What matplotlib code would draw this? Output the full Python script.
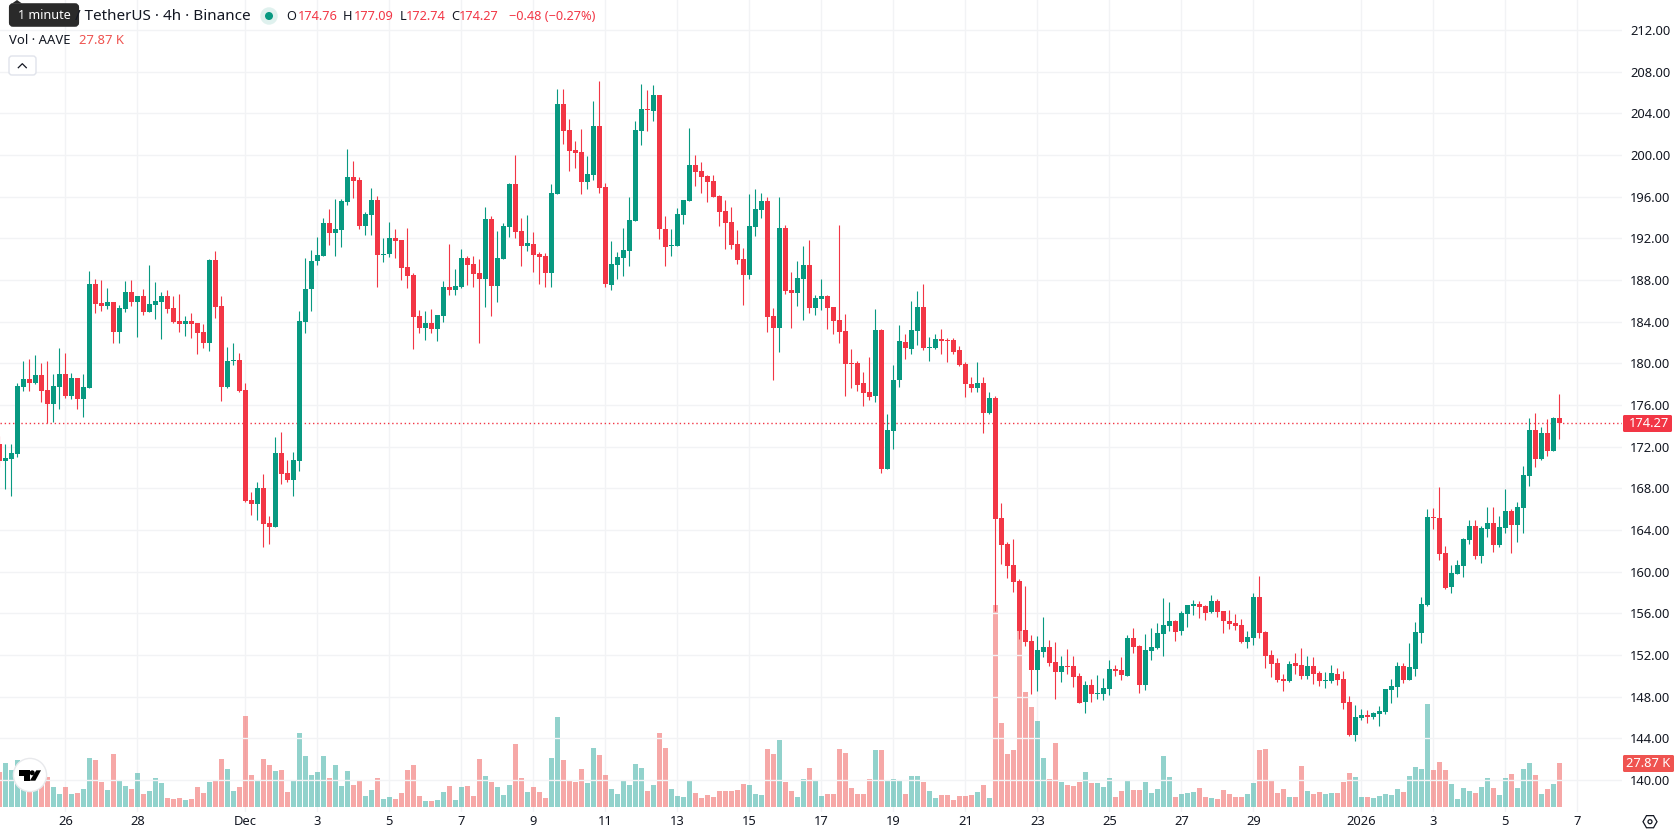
import numpy as np
import matplotlib
matplotlib.use("Agg")
import matplotlib.pyplot as plt
from matplotlib.patches import Circle, FancyBboxPatch, Polygon, RegularPolygon

plt.rcParams["font.family"] = ["Noto Sans", "DejaVu Sans"]

opens = [
172.27,170.67,170.86,171.31,177.74,178.51,178.12,178.89,177.45,176.11,
177.74,178.99,176.87,178.60,176.59,177.64,187.63,185.80,185.51,185.90,
183.02,185.23,186.86,185.90,186.47,184.94,185.61,185.90,186.47,185.32,
184.07,183.79,184.07,183.88,183.02,181.96,189.93,185.51,177.74,180.23,
180.33,177.45,166.89,166.51,168.04,164.68,164.30,171.40,169.48,168.81,
170.63,183.98,187.15,189.83,190.31,193.48,192.52,192.81,195.50,197.90,
197.61,193.19,194.25,195.69,190.41,190.51,192.04,191.85,189.26,188.49,
184.55,183.40,183.88,183.31,184.55,187.34,187.05,187.34,190.12,189.55,
188.68,188.11,193.87,187.43,190.03,193.10,197.23,192.71,191.27,191.47,
190.51,190.31,188.68,196.27,204.91,202.41,200.49,200.30,197.42,198.09,
202.79,196.94,187.53,189.45,190.12,190.79,193.67,202.31,204.43,204.23,
205.77,192.91,191.27,191.27,194.25,195.59,199.05,198.47,198.00,197.51,
196.07,194.63,193.58,191.47,190.03,188.49,193.10,194.73,195.59,184.55,
183.40,193.00,187.05,186.76,188.11,189.45,185.32,186.19,186.47,185.42,
184.17,183.11,180.04,180.04,178.12,177.26,176.87,183.21,169.87,173.51,
178.41,182.06,181.39,183.11,185.42,181.48,181.48,182.35,182.25,182.25,
181.29,179.95,178.03,177.64,178.11,175.23,176.67,165.15,162.66,160.64,
159.10,154.40,153.34,150.56,152.29,152.77,151.33,150.37,150.94,150.94,
149.98,147.49,149.12,148.26,148.26,148.74,150.66,150.56,149.98,153.63,
152.86,149.12,152.38,152.67,154.02,154.78,155.26,154.30,155.94,156.70,
156.90,156.70,156.13,157.18,156.22,155.26,155.07,154.88,153.25,153.63,
157.57,154.21,152.00,151.23,149.70,149.50,151.23,151.04,149.98,150.94,
150.27,149.50,149.50,150.18,149.70,147.49,144.32,145.95,146.24,146.05,
146.34,146.53,148.64,148.93,150.94,149.60,150.66,154.11,156.80,165.25,
165.15,161.79,158.53,159.78,160.54,163.04,164.38,161.50,164.10,164.67,
162.56,164.19,165.82,164.48,166.11,169.18,173.60,170.82,173.31,171.58,
174.76,
]

closes = [
170.67,170.92,171.40,177.83,178.51,178.12,178.89,177.35,176.11,177.83,
178.99,176.87,178.60,176.59,177.74,187.63,185.71,185.51,185.90,183.02,
185.32,186.86,185.90,186.47,184.94,185.71,186.00,186.47,185.23,183.98,
183.79,184.07,183.79,182.92,181.96,189.93,185.42,177.74,180.23,180.33,
177.35,166.79,166.51,168.04,164.59,164.30,171.40,169.39,168.81,170.73,
184.07,187.15,189.83,190.41,193.48,192.52,192.91,195.59,197.90,197.51,
193.19,194.35,195.69,190.41,190.51,192.04,191.75,189.16,188.39,184.46,
183.40,183.88,183.31,184.65,187.34,187.05,187.43,190.12,189.45,188.59,
188.11,193.87,187.43,190.12,193.19,197.23,192.62,191.27,191.56,190.41,
190.22,188.68,196.36,204.91,202.31,200.39,200.20,197.42,198.19,202.79,
196.84,187.63,189.55,190.22,190.89,193.77,202.41,204.43,204.33,205.77,
192.91,191.18,191.37,194.35,195.69,199.05,198.38,197.90,197.42,195.98,
194.54,193.48,191.37,189.93,188.49,193.19,194.83,195.59,184.46,183.40,
193.00,186.95,186.76,188.20,189.45,185.32,186.28,186.47,185.32,184.07,
183.02,179.95,179.95,177.93,177.16,176.78,183.21,169.87,173.61,178.41,
182.15,181.48,183.21,185.42,181.48,181.58,182.35,182.15,182.15,181.10,
179.85,178.03,177.64,178.12,175.23,176.67,165.06,162.56,160.54,159.01,
154.30,153.25,150.56,152.48,152.77,151.23,150.37,150.94,150.85,149.89,
147.39,149.12,148.26,148.35,148.83,150.66,150.46,150.08,153.63,152.77,
149.12,152.48,152.77,154.11,154.88,155.26,154.21,156.03,156.80,156.90,
156.61,156.03,157.18,156.13,155.26,154.98,154.78,153.25,153.73,157.57,
154.11,151.90,151.14,149.60,149.50,151.14,150.94,149.98,150.94,150.18,
149.50,149.60,150.27,149.60,147.39,144.32,146.05,146.24,146.08,146.43,
146.62,148.74,149.02,150.94,149.60,150.85,154.21,156.90,165.25,165.15,
161.70,158.40,159.87,160.64,163.14,164.38,161.50,164.19,164.67,162.56,
164.29,165.82,164.48,166.21,169.28,173.60,170.82,173.31,171.58,174.75,
174.27,
]

highs = [
173.00,172.27,172.27,178.12,180.23,180.43,180.81,180.04,180.23,178.99,
181.48,181.00,179.08,178.60,178.99,188.87,188.11,188.01,187.24,185.90,
185.61,187.91,188.01,186.47,187.15,189.45,187.82,186.86,187.05,186.47,
186.67,184.55,184.84,183.88,183.79,190.03,190.79,186.47,181.58,181.96,
181.00,178.12,167.66,168.62,169.39,165.35,172.94,173.42,170.73,171.50,
185.03,190.12,190.89,192.14,193.96,194.83,195.79,195.79,200.58,199.43,
197.90,194.54,196.84,196.07,192.04,193.58,192.91,191.85,193.00,188.68,
185.13,185.03,185.23,184.65,187.91,191.47,189.07,190.99,190.31,190.31,
190.03,195.02,194.15,192.71,193.48,197.32,200.01,193.96,194.25,192.62,
190.70,190.60,197.23,206.35,206.35,203.47,201.35,202.51,199.91,205.19,
207.11,197.32,191.75,190.70,192.99,195.98,203.27,206.83,206.25,206.73,
205.77,194.15,192.91,194.92,195.69,202.60,200.01,199.34,198.09,198.09,
196.17,195.69,195.02,192.81,191.08,196.27,196.75,196.36,195.98,185.32,
195.98,193.29,188.78,189.83,191.27,191.85,186.57,188.11,186.57,185.42,
193.29,184.75,181.39,180.23,179.18,180.62,185.23,183.31,175.15,179.85,
183.69,182.83,185.99,186.95,187.63,182.54,182.83,183.31,182.44,182.44,
181.67,180.14,178.70,180.14,178.69,177.25,176.86,166.59,162.85,163.14,
159.30,158.62,153.92,153.82,155.65,153.44,153.25,151.90,152.58,151.90,
150.27,149.50,149.70,150.08,149.79,151.52,151.04,151.81,153.92,154.59,
152.96,154.02,154.59,155.07,157.47,157.09,155.36,156.22,156.80,157.28,
157.18,156.80,157.76,157.38,156.22,156.32,155.94,155.46,154.30,157.95,
159.58,154.30,152.48,151.71,150.18,151.42,152.19,152.67,151.90,151.81,
150.46,150.37,151.04,150.75,150.46,148.06,147.20,146.82,146.72,146.53,
147.10,148.74,149.70,151.33,151.23,153.15,155.17,157.57,166.02,166.11,
168.13,162.46,160.64,161.12,163.23,164.96,164.96,164.38,166.21,166.21,
165.34,167.94,166.02,166.69,170.14,174.75,175.23,173.89,174.66,174.85,
177.09,
]

lows = [
170.00,167.98,167.31,171.02,177.35,177.35,178.03,176.30,174.31,174.38,
175.63,176.68,176.59,175.63,174.86,177.64,184.84,185.03,185.23,181.96,
181.96,184.94,185.51,182.54,184.65,184.94,184.27,182.35,184.84,183.88,
183.02,182.63,182.44,180.91,181.48,181.19,184.36,176.39,177.64,179.85,
177.26,166.70,165.45,164.97,162.38,162.67,164.30,168.43,168.62,167.27,
169.67,182.92,185.03,189.45,190.31,191.37,190.31,191.18,195.21,195.88,
192.91,192.33,192.33,187.34,189.74,190.22,190.12,188.01,187.24,181.39,
182.92,182.25,182.92,182.15,183.98,186.57,186.57,187.24,187.53,187.34,
181.96,185.42,184.55,185.90,190.03,192.14,192.04,189.35,190.79,188.78,
187.63,187.34,187.34,196.27,201.07,198.47,198.76,196.27,196.75,197.61,
196.36,187.34,187.05,188.11,188.39,189.35,193.67,200.97,202.31,203.27,
191.95,189.35,190.31,191.27,193.39,195.59,197.03,196.36,195.50,195.98,
193.19,190.99,190.99,189.55,185.61,188.11,192.23,193.96,183.02,178.41,
181.10,186.67,183.40,185.51,184.17,184.84,184.65,185.13,183.31,182.83,
181.96,176.87,177.64,177.35,175.91,176.49,176.30,169.48,169.87,171.79,
177.74,180.43,180.91,181.77,181.29,180.23,181.39,180.91,180.14,180.91,
179.75,176.78,177.26,177.26,173.31,175.14,156.22,160.74,159.39,158.05,
153.54,152.86,148.26,148.54,151.81,150.94,147.78,149.41,150.18,148.93,
147.39,146.43,147.49,147.78,147.68,148.16,149.98,149.60,149.98,152.19,
148.35,148.64,151.52,152.58,151.90,154.30,153.34,153.92,154.69,155.84,
155.55,155.36,156.03,155.65,154.11,154.50,154.40,153.15,152.67,152.96,
153.63,150.75,149.89,149.41,148.54,149.41,150.18,149.70,149.70,149.22,
149.02,148.83,149.31,149.12,146.82,144.22,143.74,145.76,145.47,145.86,
145.18,146.34,147.39,147.97,149.31,149.60,149.98,153.15,156.70,164.10,
161.12,158.34,157.95,159.78,159.49,162.66,161.22,160.83,163.33,161.89,
162.37,163.71,161.79,162.85,163.71,168.22,170.05,170.72,171.10,171.58,
172.74,
]

# Traded volume per 4h bar, thousands of AAVE
volumes = [
22.2,27.9,23.4,29.8,21.3,9.7,12.7,15.0,19.0,12.7,
8.2,12.7,8.2,8.9,11.4,31.0,29.8,15.8,10.8,33.6,
16.5,13.3,11.4,21.5,8.2,10.1,18.4,15.2,5.7,5.1,
5.7,4.4,5.1,12.7,8.9,15.8,17.1,30.4,24.1,10.1,
12.7,57.6,20.3,16.5,30.4,26.6,22.8,23.4,9.5,16.5,
46.9,32.3,20.3,22.2,32.3,18.4,26.6,13.3,22.8,13.9,
17.1,7.0,10.8,18.4,5.1,6.3,5.1,8.9,23.4,26.6,
7.0,3.8,3.8,4.4,9.5,13.3,4.4,12.7,13.3,7.0,
30.4,19.6,15.8,12.7,7.6,13.9,39.9,18.4,9.5,12.7,
9.5,5.7,31.0,57.0,29.8,16.5,15.8,24.1,15.2,37.4,
32.9,20.3,11.4,8.2,17.1,13.9,27.2,24.7,10.1,13.9,
46.9,37.4,11.4,7.0,6.3,17.1,8.9,5.7,7.6,6.3,
10.1,10.1,10.1,10.8,14.6,13.9,8.2,7.6,36.7,33.6,
42.4,15.8,10.1,6.3,17.7,24.7,16.5,7.0,8.2,8.2,
36.7,34.2,12.0,8.2,8.2,17.7,36.1,36.1,17.1,17.7,
16.5,8.2,19.6,19.6,15.8,10.1,5.7,7.6,7.6,4.4,
7.0,7.0,7.6,9.5,13.9,5.7,127.9,53.2,33.6,36.1,
111.5,72.8,63.3,54.5,31.0,17.7,40.5,15.8,13.9,13.3,
15.8,22.2,15.2,15.2,12.7,18.4,6.3,10.1,16.5,10.8,
10.8,15.8,8.9,11.4,32.3,19.0,6.3,8.2,8.9,9.5,
12.0,6.3,5.7,5.1,10.8,8.2,6.3,6.3,8.2,15.2,
36.1,36.7,16.5,8.9,11.4,6.3,6.3,26.0,10.1,8.2,
9.5,8.2,8.9,8.9,15.8,21.5,19.0,6.3,6.3,5.7,
7.0,8.2,7.6,11.4,9.5,19.6,25.3,24.1,65.2,23.4,
28.5,23.4,14.6,5.1,12.0,10.1,8.9,12.7,18.4,12.0,
7.6,18.4,20.9,12.0,24.1,27.9,20.3,8.2,11.4,14.6,
27.87,
]

# Bar index of each date label on the time axis
date_ticks = [11, 23, 41, 53, 65, 77, 89, 101, 113, 125, 137, 149, 161, 173,
              185, 197, 209, 227, 239, 251, 263]
date_labels = ["26", "28", "Dec", "3", "5", "7", "9", "11", "13", "15", "17",
               "19", "21", "23", "25", "27", "29", "2026", "3", "5", "7"]
price_ticks = list(range(140, 213, 4))

last_price = closes[-1]
last_volume = volumes[-1]

UP = "#089981"
DOWN = "#f23645"
VOL_UP = "#26a69a"
VOL_DOWN = "#ef5350"
GRID = "#f2f3f5"
INK = "#131722"

W, H = 1678, 835
fig = plt.figure(figsize=(W / 100, H / 100), dpi=100, facecolor="white")
pane_right, pane_bottom = 1622, 812
pane = [0, 1 - pane_bottom / H, pane_right / W, pane_bottom / H]

o = np.array(opens)
c = np.array(closes)
hi = np.array(highs)
lo = np.array(lows)
vol = np.array(volumes)
idx = np.arange(len(o))
rising = c >= o
xlim = (0.112, 270.45)
BAR_WIDTH = 0.9

# Volume pane sits underneath and carries the grid
ax_vol = fig.add_axes(pane, facecolor="white")
ax_vol.set_xlim(*xlim)
ax_vol.set_ylim(-3.17, 511.1)
ax_vol.bar(idx[rising], vol[rising], width=BAR_WIDTH, color=VOL_UP, alpha=0.5,
           linewidth=0, zorder=2)
ax_vol.bar(idx[~rising], vol[~rising], width=BAR_WIDTH, color=VOL_DOWN, alpha=0.5,
           linewidth=0, zorder=2)
ax_vol.set_xticks(date_ticks)
ax_vol.set_xticklabels(date_labels, fontsize=9.3, color=INK)
ax_vol.get_xticklabels()[date_labels.index("2026")].set_fontweight("bold")
ax_vol.tick_params(axis="x", length=0, pad=2.2)
ax_vol.set_yticks([])
ax_vol.grid(axis="x", color=GRID, linewidth=1.0, zorder=0)
for s in ax_vol.spines.values():
    s.set_visible(False)

# Candles on the price scale
ax = fig.add_axes(pane, facecolor="none")
ax.set_xlim(*xlim)
ax.set_ylim(136.92, 214.89)
ax.yaxis.tick_right()
ax.set_yticks(price_ticks)
ax.set_yticklabels([f"{p:.2f}" for p in price_ticks], fontsize=9.3, color=INK)
ax.tick_params(axis="y", length=0, pad=6)
ax.set_xticks([])
ax.grid(axis="y", color=GRID, linewidth=1.0, zorder=0)
ax.set_axisbelow(True)
for s in ax.spines.values():
    s.set_visible(False)

ax.axhline(last_price, color=DOWN, linewidth=1.0, linestyle=(0, (1, 2)), zorder=1)
colors = np.where(rising, UP, DOWN)
ax.vlines(idx, lo, hi, colors=colors, linewidth=0.8, zorder=2)
ax.bar(idx, np.maximum(np.abs(c - o), 0.1), bottom=np.minimum(o, c), width=BAR_WIDTH,
       color=colors, linewidth=0, zorder=3)

# Interface elements, placed in figure pixels
ui = fig.add_axes([0, 0, 1, 1], facecolor="none")
ui.set_xlim(0, W)
ui.set_ylim(H, 0)
ui.axis("off")

ui.text(251, 16, "/ TetherUS · 4h · Binance", fontsize=11.0, color=INK,
        ha="right", va="center")
ui.add_patch(Circle((269, 16), 8.7, facecolor="#dff1ee", edgecolor="none"))
ui.add_patch(Circle((269, 16), 4, facecolor=UP, edgecolor="none"))

readout = [("O", 286, INK), (f"{opens[-1]:.2f}", 298, DOWN),
           ("H", 343, INK), (f"{highs[-1]:.2f}", 354, DOWN),
           ("L", 400, INK), (f"{lows[-1]:.2f}", 406, DOWN),
           ("C", 451, INK), (f"{closes[-1]:.2f}", 459, DOWN),
           ("−0.48 (−0.27%)", 509, DOWN)]
for label, x, col in readout:
    ui.text(x, 16, label, fontsize=9.2, color=col, ha="left", va="center")

ui.text(9, 41, "Vol · AAVE", fontsize=9.4, color=INK, ha="left", va="center")
ui.text(79, 41, f"{last_volume:.2f} K", fontsize=9.4, color=VOL_DOWN, ha="left", va="center")

# Tooltip over the symbol name
ui.add_patch(Polygon([(12, 3.5), (17, 0), (22, 3.5)], facecolor="#2a2a2a", edgecolor="none"))
ui.add_patch(FancyBboxPatch((11, 5.3), 66, 19.4, boxstyle="round,pad=0,rounding_size=2",
                            mutation_aspect=1, facecolor="#2a2a2a", edgecolor="#2a2a2a",
                            linewidth=3))
ui.text(44, 15.5, "1 minute", fontsize=9.1, color="white", ha="center", va="center")

# Collapse button
ui.add_patch(FancyBboxPatch((9, 56), 27, 19, boxstyle="round,pad=0,rounding_size=3",
                            facecolor="white", edgecolor="#e0e3eb", linewidth=1))
ui.plot([18.3, 22.3, 26.3], [67.7, 63.7, 67.7], color=INK, linewidth=0.9)

# Last-value tags on the price scale
ui.add_patch(FancyBboxPatch((1623, 415), 49, 17, boxstyle="round,pad=0,rounding_size=1.5",
                            facecolor=DOWN, edgecolor="none"))
ui.text(1648.5, 423.5, f"{last_price:.2f}", fontsize=9.3, color="white", ha="center", va="center")
ui.add_patch(FancyBboxPatch((1623, 755), 51, 17, boxstyle="round,pad=0,rounding_size=1.5",
                            facecolor=VOL_DOWN, edgecolor="none"))
ui.text(1648.5, 763.5, f"{last_volume:.2f} K", fontsize=9.3, color="white", ha="center", va="center")

# Settings icon in the axes corner
ui.add_patch(RegularPolygon((1650, 821.7), 6, radius=7, orientation=np.pi / 6,
                            facecolor="none", edgecolor=INK, linewidth=0.9))
ui.add_patch(Circle((1650, 821.7), 2, facecolor="none", edgecolor=INK, linewidth=0.9))

# Watermark badge
ui.add_patch(Circle((30, 775), 16.6, facecolor="white", edgecolor="#e8e9ec", linewidth=1, zorder=5))
ui.add_patch(Polygon([(18.5, 770.3), (29.5, 770.3), (29.5, 780.7), (23.5, 780.7),
                      (23.5, 775.8), (18.5, 775.8)], facecolor="black", edgecolor="none", zorder=6))
ui.add_patch(Circle((32.2, 772.8), 2.5, facecolor="black", edgecolor="none", zorder=6))
ui.add_patch(Polygon([(36.3, 770.3), (41, 770.3), (35.3, 780.7), (29.8, 780.7)],
                     facecolor="black", edgecolor="none", zorder=6))

fig.savefig("out.png", dpi=100)
